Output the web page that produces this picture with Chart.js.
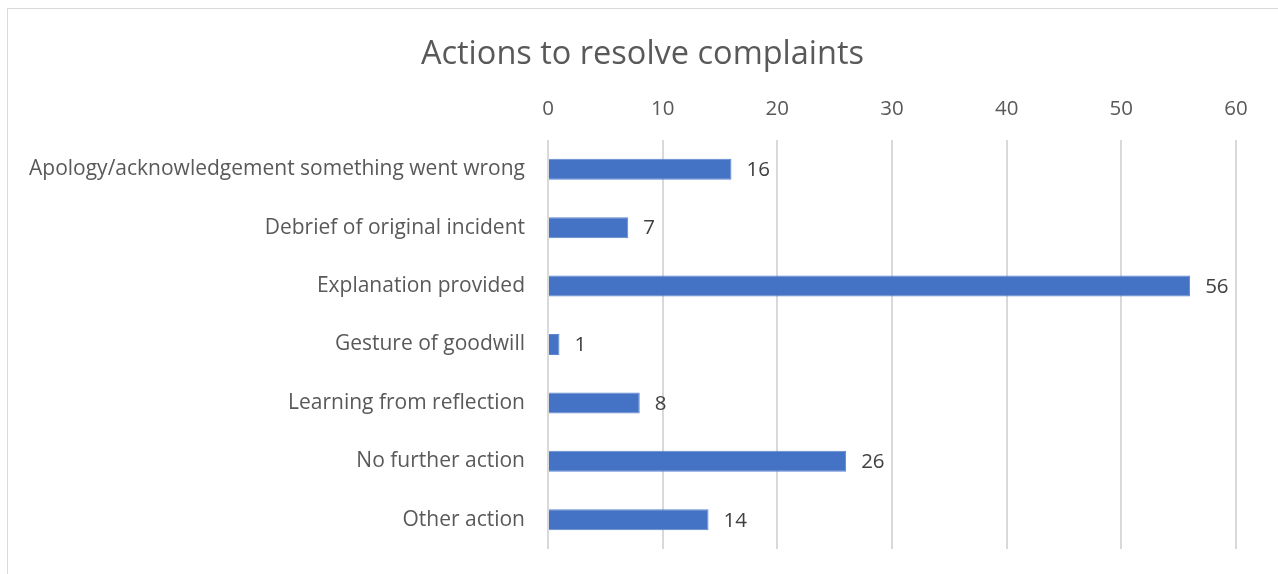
<!DOCTYPE html>
<html>
<head>
<meta charset="utf-8">
<script src="https://cdn.jsdelivr.net/npm/chart.js@4/dist/chart.umd.min.js"></script>
<style>
  html, body { margin: 0; padding: 0; background: #fff; overflow: hidden; }
  #frame { position: absolute; left: 7px; top: 8px; width: 1290px; height: 600px; border: 1px solid #d9d9d9; }
  #wrap { position: absolute; left: 0; top: 0; width: 1278px; height: 574px; }
</style>
</head>
<body>
<div id="frame"></div>
<div id="wrap"><canvas id="chart" width="1278" height="574"></canvas></div>
<script>
// Chart data
const categories = [
  "Apology/acknowledgement something went wrong",
  "Debrief of original incident",
  "Explanation provided",
  "Gesture of goodwill",
  "Learning from reflection",
  "No further action",
  "Other action"
]
const counts = [16, 7, 56, 1, 8, 26, 14]
const xTicks = [0, 10, 20, 30, 40, 50, 60]

const FONT = "'Open Sans', 'Liberation Sans', sans-serif"

// Draw the value next to each bar
const barLabels = {
  id: "barLabels",
  afterDatasetsDraw(chart) {
    const ctx = chart.ctx
    const meta = chart.getDatasetMeta(0)
    ctx.save()
    ctx.font = "20.5px " + FONT
    ctx.fillStyle = "#404040"
    ctx.textAlign = "left"
    ctx.textBaseline = "middle"
    meta.data.forEach((bar, i) => {
      ctx.fillText(String(counts[i]), bar.x + 15, bar.y + 1)
    })
    ctx.restore()
  },
}

// Center the title on the whole frame instead of the padded box
const centerTitle = {
  id: "centerTitle",
  afterLayout(chart) {
    const t = chart.titleBlock
    if (!t) return
    t.left = 7
    t.right = chart.width
    t.width = t.right - t.left
  },
}

new Chart(document.getElementById("chart"), {
  type: "bar",
  data: {
    labels: categories,
    datasets: [
      {
        data: counts,
        backgroundColor: "#4472c4",
        borderColor: "#5b86d1",
        borderWidth: 1,
        categoryPercentage: 1,
        barPercentage: 0.36,
      },
    ],
  },
  options: {
    indexAxis: "y",
    responsive: false,
    animation: false,
    layout: { padding: { left: 0, right: 42, top: 0, bottom: 25 } },
    scales: {
      x: {
        position: "top",
        min: 0,
        max: 60,
        afterBuildTicks: (scale) => {
          scale.ticks = xTicks.map((v) => ({ value: v }))
        },
        afterFit: (scale) => {
          scale.height = 49
        },
        grid: { color: "#d9d9d9", lineWidth: 2, drawTicks: false },
        border: { display: false },
        ticks: { color: "#595959", font: { family: FONT, size: 20.5 }, padding: 19 },
      },
      y: {
        afterFit: (scale) => {
          scale.width = 548
          scale.paddingTop = 0
          scale.paddingBottom = 0
        },
        grid: { display: false, drawTicks: false },
        border: { display: false },
        ticks: { color: "#595959", font: { family: FONT, size: 21 }, padding: 23 },
      },
    },
    plugins: {
      legend: { display: false },
      tooltip: { enabled: false },
      title: {
        display: true,
        text: "Actions to resolve complaints",
        color: "#595959",
        font: { family: FONT, size: 32.5, weight: "normal" },
        padding: { top: 35, bottom: 17 },
      },
    },
  },
  plugins: [barLabels, centerTitle],
})
</script>
</body>
</html>
